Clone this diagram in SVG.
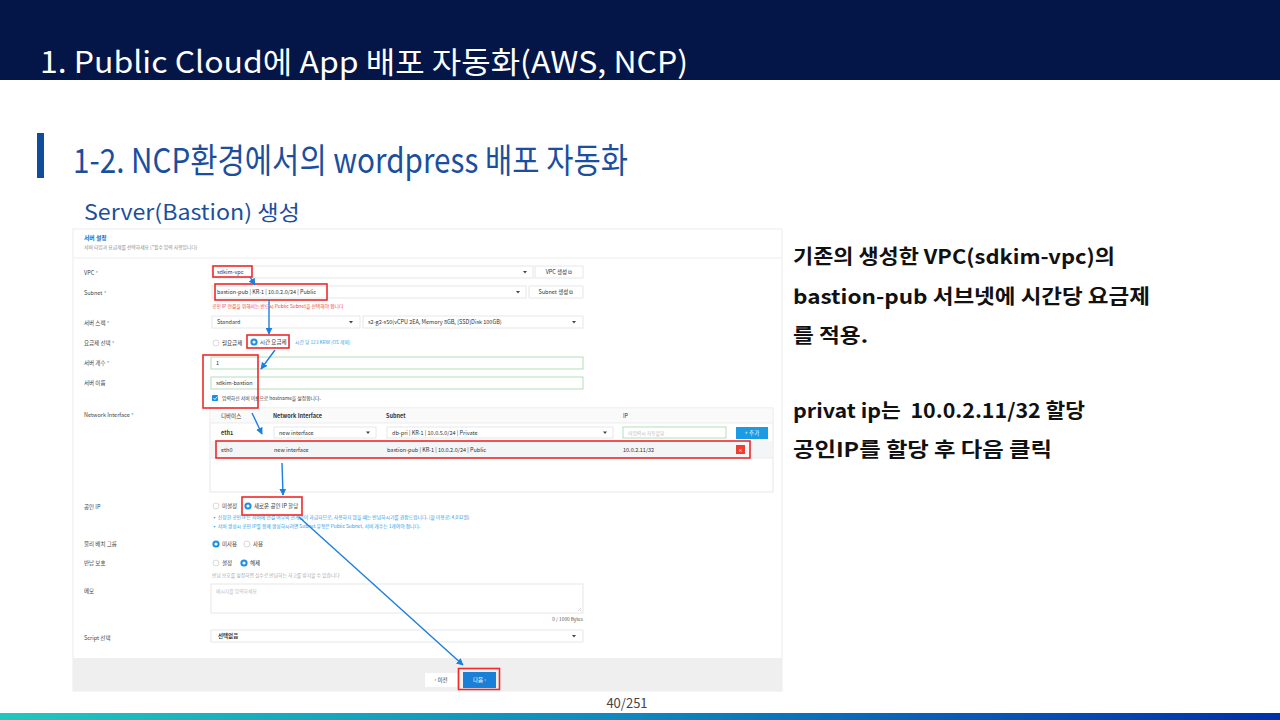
<svg xmlns="http://www.w3.org/2000/svg" width="1280" height="720" viewBox="0 0 1280 720">
<defs>
<linearGradient id="foot" x1="0" y1="0" x2="1" y2="0">
<stop offset="0" stop-color="#1ec8bc"/>
<stop offset="0.5" stop-color="#0f86bf"/>
<stop offset="1" stop-color="#0030a8"/>
</linearGradient>
<marker id="ah" viewBox="0 0 10 10" refX="9" refY="5" markerWidth="5" markerHeight="5" orient="auto" markerUnits="strokeWidth">
<path d="M0,0 L10,5 L0,10 z" fill="#1a7fe0"/>
</marker>
<style>
.k{font-family:"Noto Sans CJK KR","Liberation Sans",sans-serif}
.lbl{font-family:"Noto Sans CJK KR","Liberation Sans",sans-serif;font-size:5.5px;fill:#444}
.t{font-family:"Noto Sans CJK KR","Liberation Sans",sans-serif;font-size:5.5px;fill:#333}
.sm{font-family:"Noto Sans CJK KR","Liberation Sans",sans-serif;font-size:4.8px}
.star{fill:#1a8fe0}
.box{fill:#fff;stroke:#e2e2e2;stroke-width:0.8}
.inp{fill:#fff;stroke:#a9dcb2;stroke-width:0.9}
.rad{fill:#fff;stroke:#cfcfcf;stroke-width:0.8}
.rsel{fill:#fff;stroke:#1a8fe0;stroke-width:2}
.red{fill:none;stroke:#ee2a2a;stroke-width:1.6}
.arr{fill:none;stroke:#1a7fe0;stroke-width:1.4;marker-end:url(#ah)}
.rt{font-family:"Noto Sans CJK KR","Liberation Sans",sans-serif;font-size:20px;font-weight:bold;fill:#111}
</style>
</defs>
<rect width="1280" height="720" fill="#fff"/>
<g id="title-bar">
<rect x="0" y="0" width="1280" height="80" fill="#031647"/>
<text x="40" y="73" class="k" font-size="30" fill="#fff" textLength="648" lengthAdjust="spacingAndGlyphs">1. Public Cloud에 App 배포 자동화(AWS, NCP)</text>
</g>
<g id="heading">
<rect x="37" y="133" width="7" height="45" fill="#0f4c9c"/>
<text x="73" y="173" class="k" font-size="34" fill="#1b4f9e" textLength="555" lengthAdjust="spacingAndGlyphs">1-2. NCP환경에서의 wordpress 배포 자동화</text>
<text x="84" y="220" class="k" font-size="21" fill="#1b4f9e" textLength="216" lengthAdjust="spacingAndGlyphs">Server(Bastion) 생성</text>
</g>
<g id="screenshot">
<rect x="73" y="229" width="709" height="462" fill="#fff" stroke="#e6e6e6" stroke-width="0.8"/>
<text x="84" y="240" class="k" font-size="5.8" font-weight="bold" fill="#2266cc">서버 설정</text>
<text x="84" y="249" class="sm" fill="#888">서버 타입과 요금제를 선택하세요 (<tspan class="star">*</tspan>필수 입력 사항입니다)</text>
<line x1="73" y1="258" x2="782" y2="258" stroke="#e8e8e8" stroke-width="0.8"/>
<g id="row-vpc">
<text x="84" y="275" class="lbl">VPC <tspan class="star">*</tspan></text>
<rect x="212" y="266" width="321" height="12" class="box"/>
<text x="217" y="274" class="t">sdkim-vpc</text>
<path d="M523,271 l4,0 l-2,2.5 z" fill="#444"/>
<rect x="535" y="266" width="48" height="12" class="box"/>
<text x="559" y="274" class="t" text-anchor="middle">VPC 생성 ⧉</text>
</g>
<g id="row-subnet">
<text x="84" y="295" class="lbl">Subnet <tspan class="star">*</tspan></text>
<rect x="212" y="286" width="314" height="12" class="box"/>
<text x="217" y="294" class="t">bastion-pub | KR-1 | 10.0.2.0/24 | Public</text>
<path d="M516,291 l4,0 l-2,2.5 z" fill="#444"/>
<rect x="529" y="286" width="54" height="12" class="box"/>
<text x="556" y="294" class="t" text-anchor="middle">Subnet 생성 ⧉</text>
<text x="212" y="308" class="sm" fill="#ee4433">공인 IP 연결을 위해서는 반드시 Public Subnet을 선택해야 합니다</text>
</g>
<g id="row-spec">
<text x="84" y="325" class="lbl">서버 스펙 <tspan class="star">*</tspan></text>
<rect x="212" y="316" width="148" height="12" class="box"/>
<text x="217" y="324" class="t">Standard</text>
<path d="M349,321 l4,0 l-2,2.5 z" fill="#444"/>
<rect x="363" y="316" width="220" height="12" class="box"/>
<text x="368" y="324" class="t">s2-g2-s50(vCPU 2EA, Memory 8GB, [SSD]Disk 100GB)</text>
<path d="M572,321 l4,0 l-2,2.5 z" fill="#444"/>
</g>
<g id="row-plan">
<text x="84" y="345" class="lbl">요금제 선택 <tspan class="star">*</tspan></text>
<circle cx="216" cy="343" r="3" class="rad"/>
<text x="222" y="345" class="t">월요금제</text>
<circle cx="254" cy="342" r="2.6" class="rsel"/>
<text x="260" y="344" class="t">시간 요금제</text>
<text x="295" y="344" class="sm" fill="#3aa0e8">시간 당 123 KRW (OS 제외)</text>
</g>
<g id="row-count">
<text x="84" y="365" class="lbl">서버 개수 <tspan class="star">*</tspan></text>
<rect x="211" y="357" width="372" height="12" class="inp"/>
<text x="216" y="365" class="t">1</text>
</g>
<g id="row-name">
<text x="84" y="385" class="lbl">서버 이름</text>
<rect x="211" y="377" width="372" height="12" class="inp"/>
<text x="216" y="385" class="t">sdkim-bastion</text>
<rect x="212" y="395" width="6" height="6" rx="0.8" fill="#1a8fe0"/>
<path d="M213.4,398 l1.5,1.5 l2.6,-3" fill="none" stroke="#fff" stroke-width="0.9"/>
<text x="222" y="400" class="sm" fill="#333">입력하신 서버 이름으로 hostname을 설정합니다.</text>
</g>
<g id="row-nic">
<text x="84" y="417" class="lbl">Network Interface <tspan class="star">*</tspan></text>
<rect x="210" y="408" width="563" height="84" class="box"/>
<rect x="210.5" y="408.5" width="562" height="14.5" fill="#fafafa"/>
<line x1="210" y1="423" x2="773" y2="423" stroke="#e8e8e8" stroke-width="0.8"/>
<text x="221" y="418" class="t">디바이스</text>
<text x="273" y="418" class="t" font-weight="bold">Network Interface</text>
<text x="386" y="418" class="t" font-weight="bold">Subnet</text>
<text x="623" y="418" class="t">IP</text>
<text x="221" y="435" class="t" font-weight="bold">eth1</text>
<rect x="274" y="427" width="102" height="11" class="box"/>
<text x="279" y="435" class="t">new interface</text>
<path d="M366,431.5 l4,0 l-2,2.5 z" fill="#444"/>
<rect x="387" y="427" width="226" height="11" class="box"/>
<text x="392" y="435" class="t">db-pri | KR-1 | 10.0.5.0/24 | Private</text>
<path d="M603,431.5 l4,0 l-2,2.5 z" fill="#444"/>
<rect x="623" y="427" width="103" height="11" class="inp"/>
<text x="628" y="435" class="sm" fill="#bbb">미입력시 자동할당</text>
<rect x="736" y="427" width="32" height="12" fill="#1a9be6"/>
<text x="752" y="435" class="t" text-anchor="middle" style="fill:#fff">+ 추가</text>
<line x1="210" y1="442" x2="773" y2="442" stroke="#e8e8e8" stroke-width="0.8"/>
<rect x="210.5" y="442" width="562" height="16" fill="#f4f5f7"/>
<line x1="210" y1="458" x2="773" y2="458" stroke="#e8e8e8" stroke-width="0.8"/>
<text x="221" y="452" class="t">eth0</text>
<text x="274" y="452" class="t">new interface</text>
<text x="387" y="452" class="t">bastion-pub | KR-1 | 10.0.2.0/24 | Public</text>
<text x="623" y="452" class="t">10.0.2.11/32</text>
<rect x="736" y="445" width="9" height="9" fill="#f03c32"/>
<text x="740.5" y="451.5" class="sm" text-anchor="middle" style="fill:#fff">×</text>
</g>
<g id="row-pip">
<text x="84" y="509" class="lbl">공인 IP</text>
<circle cx="216" cy="506" r="3" class="rad"/>
<text x="222" y="508" class="t">미설정</text>
<circle cx="248" cy="506" r="2.6" class="rsel"/>
<text x="254" y="508" class="t">새로운 공인 IP 할당</text>
<text x="212" y="518.5" class="sm" fill="#2a9ae8">▪  신청한 공인 IP는 서버에 연결 여부와 관계없이 과금되므로, 사용하지 않을 때는 반납하시기를 권장드립니다. (월 이용료: 4,032원)</text>
<text x="212" y="527.5" class="sm" fill="#2a9ae8">▪  서버 생성시 공인 IP를 함께 생성하시려면 Subnet 유형은 Public Subnet, 서버 개수는 1개여야 합니다.</text>
</g>
<g id="row-place">
<text x="84" y="546" class="lbl">물리 배치 그룹</text>
<circle cx="216" cy="544" r="2.6" class="rsel"/>
<text x="222" y="546" class="t">미사용</text>
<circle cx="247" cy="544" r="3" class="rad"/>
<text x="253" y="546" class="t">사용</text>
</g>
<g id="row-protect">
<text x="84" y="565" class="lbl">반납 보호</text>
<circle cx="216" cy="563" r="3" class="rad"/>
<text x="222" y="565" class="t">설정</text>
<circle cx="244" cy="563" r="2.6" class="rsel"/>
<text x="250" y="565" class="t">해제</text>
<text x="212" y="577" class="sm" fill="#aaa">반납 보호를 설정하면 실수로 반납하는 사고를 방지할 수 있습니다</text>
</g>
<g id="row-memo">
<text x="84" y="593" class="lbl">메모</text>
<rect x="211" y="584" width="372" height="29" class="box"/>
<text x="216" y="593" class="sm" fill="#bbb">메시지를 입력하세요</text>
<path d="M578,611 l3,-3 M580,611 l1,-1" stroke="#aaa" stroke-width="0.5"/>
<text x="583" y="621" class="sm" fill="#555" text-anchor="end">0 / 1000 Bytes</text>
</g>
<g id="row-script">
<text x="84" y="640" class="lbl">Script 선택</text>
<rect x="211" y="630" width="372" height="12" class="box"/>
<text x="218" y="638" class="t" font-weight="bold">선택없음</text>
<path d="M572,635 l4,0 l-2,2.5 z" fill="#444"/>
</g>
<g id="footer-bar">
<rect x="73" y="658" width="709" height="33" fill="#efefef"/>
<rect x="425" y="673" width="32" height="14" fill="#fff"/>
<text x="441" y="682" class="t" text-anchor="middle">‹  이전</text>
<rect x="463" y="672" width="33" height="16" fill="#1a7fd6"/>
<text x="479.5" y="682" class="t" text-anchor="middle" style="fill:#fff">다음  ›</text>
</g>
</g>
<g id="highlights">
<rect x="213" y="266" width="39" height="11" class="red"/>
<rect x="215" y="284" width="112" height="16" class="red"/>
<rect x="247" y="335" width="42" height="13" class="red"/>
<rect x="203" y="355" width="55" height="53" class="red"/>
<rect x="216" y="441" width="534" height="17" class="red"/>
<rect x="242" y="497" width="60" height="18" class="red"/>
<rect x="458.5" y="668.5" width="41" height="21" class="red"/>
</g>
<g id="connectors">
<path d="M250,277 L255,285" class="arr"/>
<path d="M269,300 L269,334" class="arr"/>
<path d="M275,350 L261,369" class="arr"/>
<path d="M252,413 L262,434" class="arr"/>
<path d="M282,463 L283,495" class="arr"/>
<path d="M299,517 L463,665" class="arr"/>
</g>
<g id="notes">
<text x="793" y="264" class="rt" textLength="322" lengthAdjust="spacingAndGlyphs">기존의 생성한 VPC(sdkim-vpc)의</text>
<text x="793" y="304" class="rt" textLength="357" lengthAdjust="spacingAndGlyphs">bastion-pub 서브넷에 시간당 요금제</text>
<text x="793" y="343" class="rt" textLength="75" lengthAdjust="spacingAndGlyphs">를 적용.</text>
<text x="793" y="418" class="rt" xml:space="preserve" textLength="292" lengthAdjust="spacingAndGlyphs">privat ip는  10.0.2.11/32 할당</text>
<text x="793" y="457" class="rt" textLength="259" lengthAdjust="spacingAndGlyphs">공인IP를 할당 후 다음 클릭</text>
</g>
<g id="page-footer">
<text x="627" y="708" class="k" font-size="13" fill="#444" text-anchor="middle">40/251</text>
<rect x="0" y="713" width="1280" height="7" fill="url(#foot)"/>
</g>
</svg>
